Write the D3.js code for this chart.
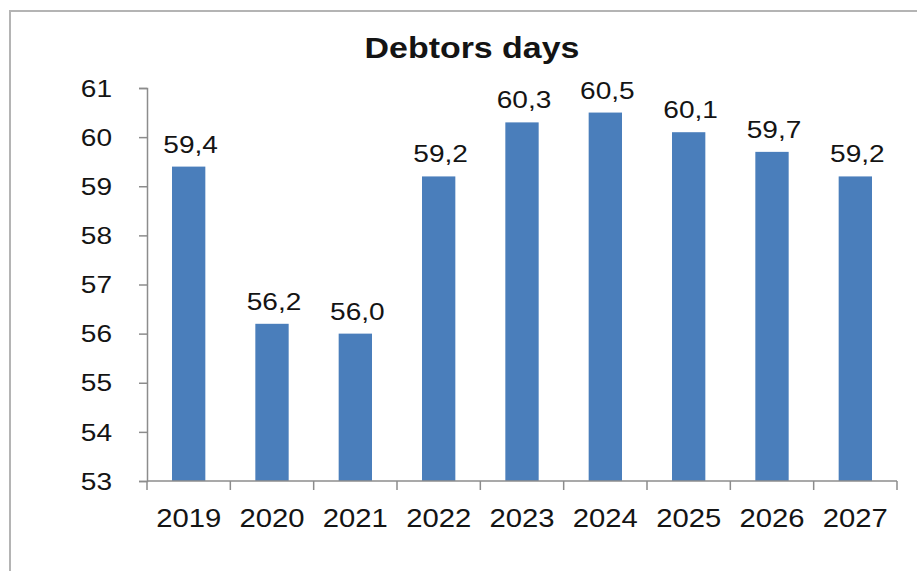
<!DOCTYPE html>
<html>
<head>
<meta charset="utf-8">
<script src="https://cdn.jsdelivr.net/npm/d3@7"></script>
<style>
  html, body { margin: 0; padding: 0; background: #fff; }
  svg { display: block; font-family: "Liberation Sans", Arial, sans-serif; }
</style>
</head>
<body>
<svg id="chart" width="917" height="571"></svg>
<script>
// Chart data
const years = ["2019", "2020", "2021", "2022", "2023", "2024", "2025", "2026", "2027"];
const debtorDays = [59.4, 56.2, 56.0, 59.2, 60.3, 60.5, 60.1, 59.7, 59.2];
const yTicks = [53, 54, 55, 56, 57, 58, 59, 60, 61];
const chartTitle = "Debtors days";

const svg = d3.select("#chart");
const W = 917, H = 571;
const plot = { left: 147, right: 897, top: 88, bottom: 481 };
const stretchX = 1.17; // text is drawn slightly wide
const barColor = "#4a7ebb";
const axisColor = "#8c8c8c";
const textColor = "#141414";

// Outer frame (runs off the right and bottom edges)
svg.append("rect")
  .attr("x", 10).attr("y", 11)
  .attr("width", W + 20).attr("height", H + 20)
  .attr("fill", "none")
  .attr("stroke", "#b4b4b4")
  .attr("stroke-width", 2);

const x = d3.scaleBand()
  .domain(years)
  .range([plot.left, plot.right])
  .paddingInner(0.6)
  .paddingOuter(0.3);

const y = d3.scaleLinear()
  .domain([53, 61])
  .range([plot.bottom, plot.top]);

const fmt = v => d3.format(".1f")(v).replace(".", ",");

// Helper: text placed at (px, py) with horizontal stretch
function stretchedText(g, px, py, str, opts) {
  return g.append("text")
    .attr("transform", `translate(${px},${py}) scale(${stretchX},1)`)
    .attr("text-anchor", opts.anchor || "middle")
    .attr("font-size", opts.size)
    .attr("font-weight", opts.weight || "normal")
    .attr("dy", opts.dy || 0)
    .attr("fill", textColor)
    .text(str);
}

// Bars
svg.append("g").selectAll("rect")
  .data(debtorDays)
  .join("rect")
  .attr("x", (d, i) => x(years[i]))
  .attr("y", d => y(d))
  .attr("width", x.bandwidth())
  .attr("height", d => y(53) - y(d))
  .attr("fill", barColor);

// Y axis
const yAxis = svg.append("g")
  .attr("transform", `translate(${plot.left},0)`)
  .call(d3.axisLeft(y).tickValues(yTicks).tickSize(8).tickFormat(""));
yAxis.select(".domain").attr("stroke", axisColor).attr("stroke-width", 1.5);
yAxis.selectAll(".tick line").attr("stroke", axisColor).attr("stroke-width", 1.5);

const yLabels = svg.append("g");
yTicks.forEach(t => {
  stretchedText(yLabels, 112, y(t), String(t), { anchor: "end", size: 24, dy: "0.36em" });
});

// X axis: baseline with ticks on the category boundaries
const xAxisG = svg.append("g");
xAxisG.append("line")
  .attr("x1", plot.left).attr("x2", plot.right)
  .attr("y1", plot.bottom).attr("y2", plot.bottom)
  .attr("stroke", axisColor).attr("stroke-width", 1.5);
const step = x.step();
d3.range(years.length + 1).forEach(i => {
  const px = plot.left + i * step;
  xAxisG.append("line")
    .attr("x1", px).attr("x2", px)
    .attr("y1", plot.bottom).attr("y2", plot.bottom + 9)
    .attr("stroke", axisColor).attr("stroke-width", 1.5);
});

const xLabels = svg.append("g");
years.forEach(c => {
  stretchedText(xLabels, x(c) + x.bandwidth() / 2, 527, c, { size: 25 });
});

// Value labels above bars
const valLabels = svg.append("g");
debtorDays.forEach((v, i) => {
  stretchedText(valLabels, x(years[i]) + x.bandwidth() / 2 + 2, y(v) - 14, fmt(v), { size: 24 });
});

// Title
stretchedText(svg, 472, 58, chartTitle, { size: 29, weight: "bold" });
</script>
</body>
</html>
